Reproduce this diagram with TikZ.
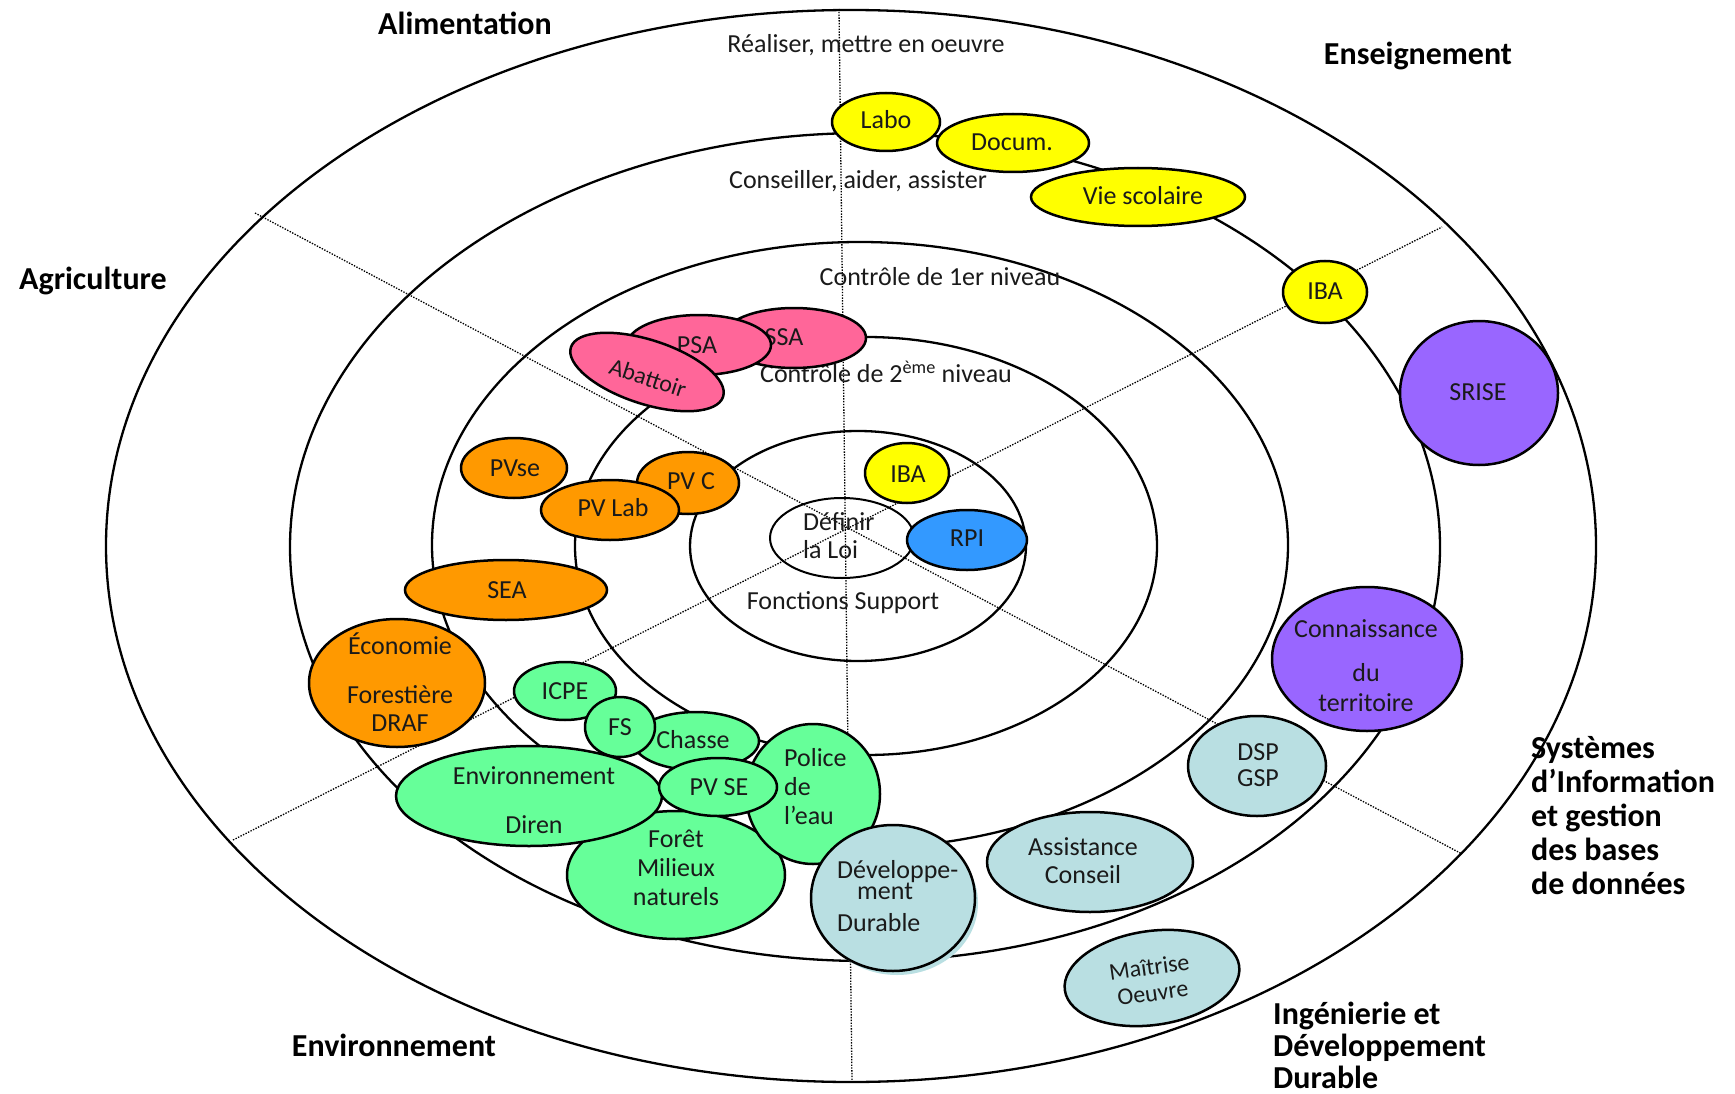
\documentclass[tikz,border=0pt]{standalone}
\usepackage{fontspec}
\setmainfont{Carlito}
\usetikzlibrary{shapes.geometric}
\definecolor{cyel}{HTML}{FFFF00}
\definecolor{cpink}{HTML}{FF6699}
\definecolor{corange}{HTML}{FF9900}
\definecolor{cpurple}{HTML}{9966FF}
\definecolor{cblue}{HTML}{3399FF}
\definecolor{cgreen}{HTML}{66FF99}
\definecolor{clight}{HTML}{B9DFE2}
\definecolor{ctext}{HTML}{1A1A1A}
\begin{document}
\begin{tikzpicture}[x=1pt,y=-1pt,
  ring/.style={draw=black, line width=2.3pt},
  divider/.style={draw=black, line width=1.3pt, dash pattern=on 1.4pt off 1.4pt},
  bub/.style={ellipse, draw=black, line width=2.5pt, inner sep=0pt},
  txt/.style={inner sep=0pt, align=center, text=ctext, font=\fontsize{26}{28}\selectfont},
  lab/.style={inner sep=0pt, align=left, text=black, font=\bfseries\fontsize{32}{34}\selectfont}]
\useasboundingbox (0,0) rectangle (1735,1094);
\fill[white] (0,0) rectangle (1735,1094);

% rings
\draw[ring] (851,546) ellipse [x radius=745pt, y radius=536pt];
\draw[ring] (865,547) ellipse [x radius=575pt, y radius=414pt];
\draw[ring] (860,545) ellipse [x radius=428pt, y radius=303pt];
\draw[ring] (866,546) ellipse [x radius=291pt, y radius=209pt];
\draw[ring] (858,546) ellipse [x radius=168pt, y radius=115pt];
\draw[draw=black, line width=2pt] (842,538) ellipse [x radius=72pt, y radius=40pt];

% dividers
\coordinate (vtop) at (839,9);
\coordinate (vbot) at (852,1082);
\coordinate (atop) at (255,213);
\coordinate (abot) at (1462,854);
\coordinate (btop) at (1442,227);
\coordinate (bbot) at (233,840);
\draw[divider] (vtop) -- (vbot);
\draw[divider] (atop) -- (abot);
\draw[divider] (bbot) -- (btop);

% ring texts
\node[txt] (t-real) at (866,45) {Réaliser, mettre en oeuvre};
\node[txt] (t-cons) at (858,181) {Conseiller, aider, assister};
\node[txt] (t-c1) at (940,277) {Contrôle de 1er niveau};
\node[txt] (t-c2) at (886,372) {Contrôle de 2\textsuperscript{ème} niveau};
\node[txt] (t-fs) at (843,603) {Fonctions Support};
\node[txt, align=left, anchor=west] (t-def) at (803,536) {Définir\\la Loi};

% outer labels
\node[lab] (l-alim) at (465,23) {Alimentation};
\node[lab] (l-ens) at (1418,56) {Enseignement};
\node[lab] (l-agri) at (93,281) {Agriculture};
\node[lab] (l-env) at (394,1045) {Environnement};
\node[lab, anchor=west] (l-sys) at (1531,816) {Systèmes\\d’Information\\et gestion\\des bases\\de données};
\node[lab, anchor=west, font=\bfseries\fontsize{32}{32}\selectfont] (l-ing) at (1273,1045) {Ingénierie et\\Développement\\Durable};

% yellow
\node[bub, fill=cyel, minimum width=108pt, minimum height=58pt] (labo) at (886,122) {};
\node[txt] (labo-t) at (886,120) {Labo};
\node[bub, fill=cyel, minimum width=152pt, minimum height=58pt] (docum) at (1013,143) {};
\node[txt] (docum-t) at (1012,142) {Docum.};
\node[bub, fill=cyel, minimum width=214pt, minimum height=58pt] (vie) at (1138,197) {};
\node[txt] (vie-t) at (1143,196) {Vie scolaire};
\node[bub, fill=cyel, minimum width=84pt, minimum height=62pt] (iba1) at (1325,292) {};
\node[txt] (iba1-t) at (1325,291) {IBA};
\node[bub, fill=cyel, minimum width=84pt, minimum height=60pt] (iba2) at (907,473) {};
\node[txt] (iba2-t) at (908,474) {IBA};

% purple / blue
\node[bub, fill=cpurple, minimum width=158pt, minimum height=144pt] (srise) at (1479,393) {};
\node[txt] (srise-t) at (1478,392) {SRISE};
\node[bub, fill=cblue, minimum width=120pt, minimum height=60pt] (rpi) at (967,540) {};
\node[txt] (rpi-t) at (967,538) {RPI};
\node[bub, fill=cpurple, minimum width=190pt, minimum height=144pt] (conn) at (1367,659) {};
\node[txt, font=\fontsize{26}{30}\selectfont] (conn-t) at (1366,666) {Connaissance\\[14pt]du\\territoire};

% pink
\node[bub, fill=cpink, minimum width=144pt, minimum height=60pt] (ssa) at (794,338) {};
\node[txt] (ssa-t) at (784,337) {SSA};
\node[bub, fill=cpink, minimum width=144pt, minimum height=60pt] (psa) at (699,345) {};
\node[txt] (psa-t) at (697,345) {PSA};
\node[bub, fill=cpink, minimum width=160pt, minimum height=64pt, rotate=-18] (abat) at (647,372) {};
\node[txt, rotate=-18, font=\fontsize{24}{26}\selectfont] (abat-t) at (648,378) {Abattoir};

% orange
\node[bub, fill=corange, minimum width=106pt, minimum height=60pt] (pvse) at (514,468) {};
\node[txt] (pvse-t) at (515,468) {PVse};
\node[bub, fill=corange, minimum width=102pt, minimum height=62pt] (pvc) at (688,483) {};
\node[txt] (pvc-t) at (691,481) {PV C};
\node[bub, fill=corange, minimum width=138pt, minimum height=60pt] (pvlab) at (610,510) {};
\node[txt] (pvlab-t) at (613,508) {PV Lab};
\node[bub, fill=corange, minimum width=202pt, minimum height=60pt] (sea) at (506,590) {};
\node[txt] (sea-t) at (507,590) {SEA};
\node[bub, fill=corange, minimum width=176pt, minimum height=128pt] (eco) at (397,683) {};
\node[txt] (eco-t) at (400,682) {Économie\\[21pt]Forestière\\DRAF};

% green
\node[bub, fill=cgreen, minimum width=218pt, minimum height=128pt] (foret) at (676,875) {};
\node[txt, font=\fontsize{26}{29}\selectfont] (foret-t) at (676,868) {Forêt\\Milieux\\naturels};
\node[bub, fill=cgreen, minimum width=134pt, minimum height=140pt] (police) at (813,794) {};
\node[txt, align=left, anchor=west, font=\fontsize{26}{29}\selectfont] (police-t) at (784,787) {Police\\de\\l'eau};
\node[bub, fill=cgreen, minimum width=126pt, minimum height=58pt] (chasse) at (696,741) {};
\node[txt] (chasse-t) at (693,740) {Chasse};
\node[bub, fill=cgreen, minimum width=102pt, minimum height=58pt] (icpe) at (565,691) {};
\node[txt] (icpe-t) at (565,691) {ICPE};
\node[bub, fill=cgreen, minimum width=70pt, minimum height=60pt] (fs) at (620,727) {};
\node[txt] (fs-t) at (620,727) {FS};
\node[bub, fill=cgreen, minimum width=266pt, minimum height=100pt] (env) at (529,796) {};
\node[txt] (env-t) at (534,800) {Environnement\\[21pt]Diren};
\node[bub, fill=cgreen, minimum width=118pt, minimum height=58pt] (pvse2) at (718,787) {};
\node[txt] (pvse2-t) at (719,787) {PV SE};

% light blue
\node[bub, fill=clight, minimum width=138pt, minimum height=100pt] (dsp) at (1257,766) {};
\node[txt, font=\fontsize{26}{26}\selectfont] (dsp-t) at (1258,765) {DSP\\GSP};
\node[bub, fill=clight, minimum width=206pt, minimum height=100pt] (assist) at (1090,862) {};
\node[txt] (assist-t) at (1083,861) {Assistance\\Conseil};
\fill[clight] (897,903) ellipse [x radius=81pt, y radius=72pt];
\node[bub, fill=clight, minimum width=164pt, minimum height=146pt] (dev) at (893,898) {};
\node[txt, align=left, anchor=west] (dev-t) at (837,896) {Développe-\\[-7pt]\hspace*{20pt}ment\\[4pt]Durable};
\node[bub, fill=clight, minimum width=176pt, minimum height=94pt, rotate=8] (maitrise) at (1152,978) {};
\node[txt, rotate=8, font=\fontsize{24}{26}\selectfont] (maitrise-t) at (1151,980) {Maîtrise\\Oeuvre};
\end{tikzpicture}
\end{document}
